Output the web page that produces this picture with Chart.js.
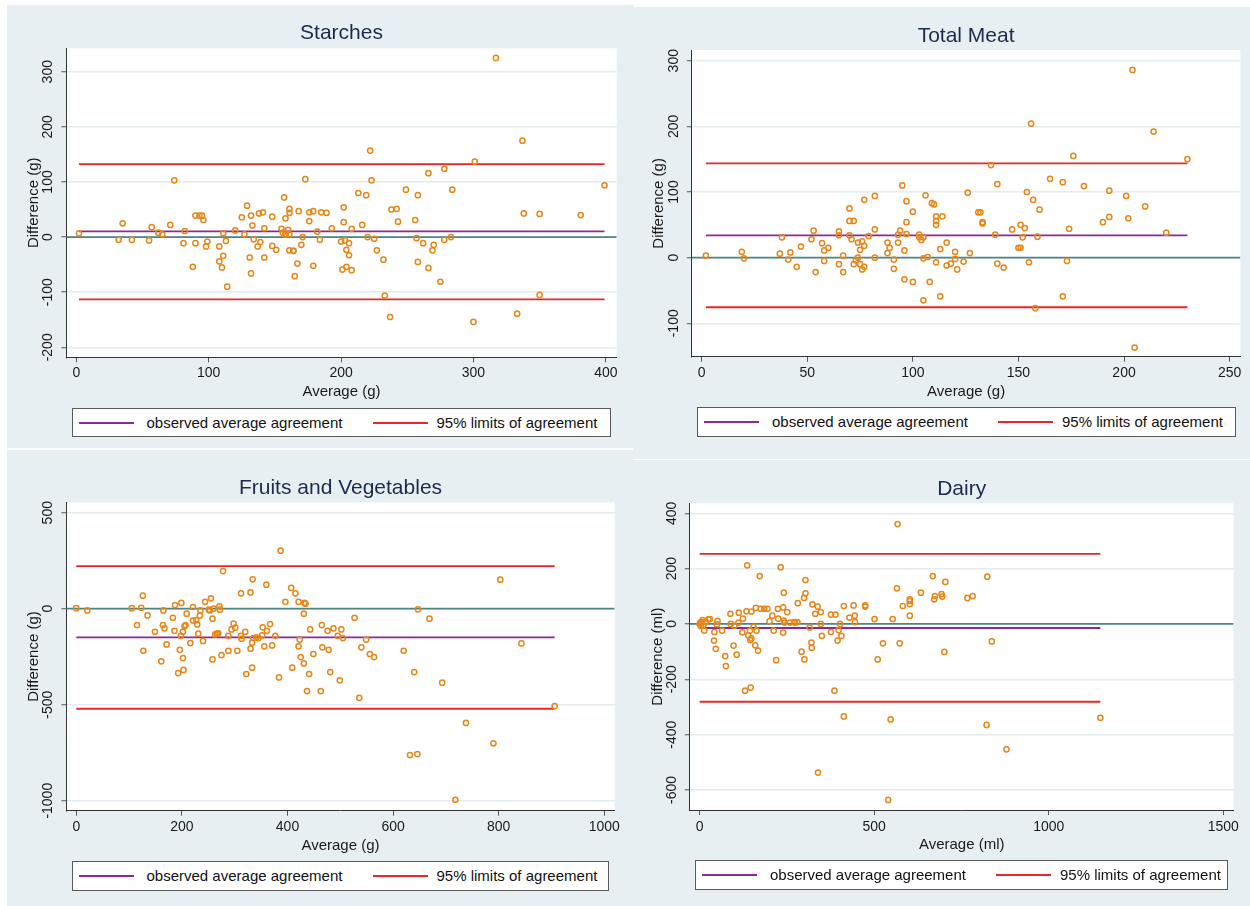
<!DOCTYPE html>
<html>
<head>
<meta charset="utf-8">
<script src="https://cdn.jsdelivr.net/npm/chart.js@4/dist/chart.umd.min.js"></script>
<style>
  html, body { margin: 0; padding: 0; background: #ffffff; }
  #page { position: relative; width: 1250px; height: 906px; overflow: hidden; background: #ffffff; }
  .panel { position: absolute; background: #e8eff2; }
  canvas { position: absolute; }
  .legend {
    position: absolute; box-sizing: border-box; background: #ffffff;
    border: 1.5px solid #5a5a5a; font-family: "Liberation Sans", Arial, Helvetica, sans-serif;
    font-size: 15px; color: #111;
  }
  .legend .ln { position: absolute; height: 2px; width: 55px; top: 50%; margin-top: -1px; }
  .legend .tx { position: absolute; top: 50%; transform: translateY(-52%); white-space: nowrap; }
</style>
</head>
<body>
<div id="page">
  <div class="panel" style="left:7px;top:5px;width:626px;height:443px"></div>
  <div class="panel" style="left:7px;top:450px;width:626px;height:456px"></div>
  <div class="panel" style="left:633px;top:7px;width:617px;height:452px"></div>
  <div class="panel" style="left:633px;top:460px;width:617px;height:446px"></div>
  <canvas id="starches" width="626" height="443" style="left:7px;top:5px"></canvas>
  <canvas id="meat" width="617" height="452" style="left:633px;top:7px"></canvas>
  <canvas id="fruits" width="626" height="456" style="left:7px;top:450px"></canvas>
  <canvas id="dairy" width="617" height="446" style="left:633px;top:460px"></canvas>
</div>
<script>
// Starches
const starchAvg = [2,32,35,42,55,57,62,65,71,74,81,82,88,90,90,93,95,96,98,99,
  108,108,110,111,111,113,114,120,125,127,129,131,132,132,133,134,137,138,139,141,
  142,142,148,148,151,155,156,157,158,158,158,160,161,161,161,161,164,164,165,167,
  168,170,171,173,176,176,179,179,182,184,185,189,193,200,201,202,202,203,204,204,
  206,206,208,208,213,216,219,220,222,223,225,227,232,233,237,238,242,243,249,256,
  257,258,258,262,266,266,269,270,275,278,278,283,284,300,301,317,333,337,338,350,
  350,381,399];
const starchDiff = [7,-5,25,-5,-6,18,8,5,22,103,-11,11,-54,39,-11,39,39,31,-17,-8,
  -17,-44,-55,-34,7,-7,-90,12,36,5,57,-37,-66,39,21,-4,-17,43,-9,45,
  -37,16,37,-16,-23,15,8,72,34,5,5,13,51,44,5,-24,-25,-25,-71,-48,
  47,-14,0,105,45,29,47,-52,10,-5,45,44,16,-8,-59,27,54,-6,-54,-23,
  -33,-11,-60,15,80,22,76,0,157,103,-3,-24,-41,-106,-145,50,51,28,86,31,
  -2,76,-45,-11,116,-56,-24,-14,-81,-5,124,0,86,-154,137,325,-139,175,43,42,
  -105,40,94];
const starchMean = 10.3;
const starchLimits = [-113.1, 132.4];
const starchXTicks = [0, 100, 200, 300, 400];
const starchYTicks = [-200, -100, 0, 100, 200, 300];

// Total Meat
const meatAvg = [2,19,20,37,38,41,42,45,47,52,53,54,57,58,58,60,65,65,65,67,
  67,70,70,70,71,72,72,73,74,74,75,75,76,76,77,77,77,79,82,82,
  82,88,88,89,91,91,93,93,94,95,96,96,97,97,97,100,100,103,103,104,
  105,105,105,106,107,108,109,110,111,111,111,111,113,113,114,116,116,118,120,120,
  121,124,126,127,131,132,133,133,137,139,140,140,143,147,151,150,151,152,153,154,
  155,156,157,158,159,160,165,171,171,173,174,176,181,190,193,193,201,202,204,205,
  210,214,220,230];
const meatDiff = [3,9,-1,6,31,-3,8,-14,17,28,41,-22,22,-5,11,15,40,34,-10,3,
  -22,75,56,34,28,-10,56,-4,23,0,-10,12,25,-18,18,-14,88,33,94,43,
  0,23,7,15,-3,-17,23,35,41,110,11,-33,86,54,36,-37,70,35,31,27,
  31,-1,-65,95,1,-37,83,81,50,63,56,-7,13,-59,63,23,-12,-9,9,-2,
  -18,-6,99,7,69,69,54,52,141,35,-9,112,-15,43,15,15,50,31,45,100,
  -7,204,88,-77,32,73,120,-59,115,-5,44,155,109,54,62,102,94,60,286,-137,
  78,192,38,150];
const meatMean = 34;
const meatLimits = [-75.6, 143.6];
const meatXTicks = [0, 50, 100, 150, 200, 250];
const meatYTicks = [-100, 0, 100, 200, 300];

// Fruits and Vegetables
const fruitAvg = [0,21,105,115,123,126,127,135,149,161,164,165,167,171,183,186,187,193,196,198,
  199,202,202,203,205,207,209,216,221,221,227,229,231,234,235,240,244,251,253,255,
  258,258,260,263,266,269,271,272,275,278,288,288,294,298,301,305,312,312,313,320,
  322,330,330,333,333,334,335,341,345,352,353,356,360,361,367,371,377,384,387,396,
  407,409,415,421,421,423,425,431,431,432,434,437,441,443,449,463,465,466,476,478,
  481,487,495,499,502,505,527,536,540,549,556,564,620,632,640,646,647,669,693,718,
  738,790,803,843,906];
const fruitDiff = [3,-9,3,-85,5,68,-219,-35,-120,-274,-85,-9,-102,-186,-47,-115,19,-335,-214,-141,
  30,-120,-257,-319,-90,-85,-26,-179,9,-62,-59,-82,-130,-36,-9,-168,36,-5,-9,54,
  -52,-264,0,-134,-130,-128,12,-5,-241,196,-141,-219,-108,-78,-99,-219,80,-141,-156,-120,
  -340,85,-208,-177,-307,153,-153,-149,-153,-139,-97,-196,125,-115,-80,-191,-141,-358,302,36,
  109,-307,80,36,-196,-161,-252,-26,-285,30,26,-429,-340,-108,-236,-429,-85,-201,-115,-214,
  -330,-102,-141,-373,-108,-153,-47,-464,-201,-161,-236,-252,-219,-762,-330,-757,-3,-52,-385,-995,
  -595,-701,151,-181,-507];
const fruitMean = -149;
const fruitLimits = [-521, 222];
const fruitXTicks = [0, 200, 400, 600, 800, 1000];
const fruitYTicks = [-1000, -500, 0, 500];

// Dairy
const dairyAvg = [0,2,6,8,10,13,3,17,25,29,41,42,46,49,51,64,73,75,88,89,
  97,99,106,111,112,122,124,130,134,136,139,144,145,146,148,148,154,159,161,163,
  167,172,175,185,194,200,208,212,219,224,225,232,239,239,241,241,243,251,259,271,
  273,280,281,292,299,300,303,303,315,320,321,323,331,338,339,347,347,350,376,376,
  386,389,395,398,402,406,413,413,429,441,444,445,474,474,501,510,525,540,547,553,
  565,567,573,582,602,602,602,602,634,668,672,674,693,695,701,704,767,782,822,824,
  837,879,1148];
const dairyDiff = [0,5,7,14,-4,-24,-7,7,17,18,-60,-29,-90,-1,11,-24,-116,-152,37,0,
  -78,-6,-111,5,41,-30,19,-241,46,212,-41,-24,-58,-230,-52,45,-10,-77,58,-24,
  -96,173,55,55,55,10,30,-24,-131,55,19,205,60,-31,113,12,5,43,5,7,
  5,7,75,-100,94,-128,159,111,-13,-67,-86,71,37,63,-537,0,43,-43,-29,34,
  -241,34,-60,-22,0,-43,65,-334,23,67,30,7,67,63,18,-128,-70,-636,-345,18,
  129,361,-70,65,30,89,72,83,113,173,89,101,108,99,-101,152,94,101,-365,171,
  -63,-453,-339];
const dairyMean = -14.5;
const dairyLimits = [-281, 253];
const dairyXTicks = [0, 500, 1000, 1500];
const dairyYTicks = [-600, -400, -200, 0, 200, 400];

const legendLabels = ['observed average agreement', '95% limits of agreement'];

const FONT = '"Liberation Sans", Arial, Helvetica, sans-serif';
const ORANGE = '#e6871a';
const PURPLE = '#8a2b92';
const RED = '#e8262b';
const TEAL = '#4b8686';
const GRID = '#e4ecf0';
const NAVY = '#1c2b4d';

Chart.defaults.font.family = FONT;

// white plot region, title, rotated y tick labels
const panelPlugin = {
    id: 'panel',
    beforeDraw(chart) {
        const a = chart.chartArea;
        const ctx = chart.ctx;
        ctx.save();
        ctx.fillStyle = '#ffffff';
        ctx.fillRect(a.left, a.top, a.right - a.left, a.bottom - a.top);
        ctx.restore();
    },
    afterDraw(chart, args, opts) {
        const ctx = chart.ctx;
        const a = chart.chartArea;
        ctx.save();
        ctx.fillStyle = NAVY;
        ctx.font = '21px ' + FONT;
        ctx.textAlign = 'center';
        ctx.textBaseline = 'middle';
        ctx.fillText(opts.title, (a.left + a.right) / 2, opts.titleY);

        const ys = chart.scales.y;
        ctx.fillStyle = '#1a1a1a';
        ctx.font = '14px ' + FONT;
        ys.ticks.forEach(t => {
            ctx.save();
            ctx.translate(opts.yLabelX, ys.getPixelForValue(t.value));
            ctx.rotate(-Math.PI / 2);
            ctx.fillText(String(t.value), 0, 0);
            ctx.restore();
        });
        ctx.restore();
    }
};

function hline(y, x0, x1, color) {
    return {
        type: 'line',
        data: [{ x: x0, y: y }, { x: x1, y: y }],
        borderColor: color,
        borderWidth: 1.8,
        pointRadius: 0,
        fill: false
    };
}

function makePanel(id, p) {
    const lo = Math.min(...p.avg);
    const hi = Math.max(...p.avg);
    const points = p.avg.map((a, i) => ({ x: a, y: p.diff[i] }));

    new Chart(document.getElementById(id), {
        type: 'scatter',
        data: {
            datasets: [
                {
                    data: points,
                    pointStyle: 'circle',
                    pointRadius: 2.6,
                    pointHoverRadius: 2.6,
                    borderWidth: 1.5,
                    borderColor: ORANGE,
                    backgroundColor: 'rgba(255,255,255,0)'
                },
                hline(p.mean, lo, hi, PURPLE),
                hline(p.limits[1], lo, hi, RED),
                hline(p.limits[0], lo, hi, RED),
                hline(0, p.xMin, p.xMax, TEAL)
            ]
        },
        options: {
            responsive: false,
            animation: false,
            events: [],
            layout: { padding: p.pad },
            plugins: {
                legend: { display: false },
                tooltip: { enabled: false },
                title: { display: false },
                panel: { title: p.title, titleY: p.titleY, yLabelX: p.yLabelX }
            },
            scales: {
                x: {
                    type: 'linear',
                    min: p.xMin,
                    max: p.xMax,
                    afterBuildTicks: s => { s.ticks = p.xTicks.map(v => ({ value: v })); },
                    afterFit: s => { s.height = p.xHeight; },
                    grid: { drawOnChartArea: false, drawTicks: true, tickLength: 5, tickColor: '#555', tickWidth: 1 },
                    border: { display: true, color: '#333', width: 1 },
                    ticks: { padding: p.xTickPad, color: '#1a1a1a', font: { size: 14 }, callback: v => String(v) },
                    title: { display: true, text: p.xTitle, color: '#1a1a1a', font: { size: 15 }, padding: 0 }
                },
                y: {
                    type: 'linear',
                    min: p.yMin,
                    max: p.yMax,
                    afterBuildTicks: s => { s.ticks = p.yTicks.map(v => ({ value: v })); },
                    afterFit: s => { s.width = p.yWidth; },
                    grid: { color: GRID, lineWidth: 1.5, drawTicks: true, tickLength: 5, tickColor: '#555', tickWidth: 1 },
                    border: { display: true, color: '#333', width: 1 },
                    ticks: { display: false },
                    title: { display: true, text: p.yTitle, color: '#1a1a1a', font: { size: 15 }, padding: 0 }
                }
            }
        },
        plugins: [panelPlugin]
    });
}

function addLegend(box) {
    const el = document.createElement('div');
    el.className = 'legend';
    el.style.left = box.left + 'px';
    el.style.top = box.top + 'px';
    el.style.width = box.width + 'px';
    el.style.height = box.height + 'px';
    el.innerHTML =
        '<span class="ln" style="left:6px;background:' + PURPLE + '"></span>' +
        '<span class="tx" style="left:74px">' + legendLabels[0] + '</span>' +
        '<span class="ln" style="left:300px;background:' + RED + '"></span>' +
        '<span class="tx" style="left:364px">' + legendLabels[1] + '</span>';
    document.getElementById('page').appendChild(el);
}

window.onload = () => {
    makePanel('starches', {
        title: 'Starches', xTitle: 'Average (g)', yTitle: 'Difference (g)',
        avg: starchAvg, diff: starchDiff, mean: starchMean, limits: starchLimits,
        xTicks: starchXTicks, yTicks: starchYTicks,
        xMin: -7.55, xMax: 408.2, yMin: -218.1, yMax: 342.5,
        pad: { top: 43.3, right: 16.3, left: 18, bottom: 47.3 },
        yWidth: 41.3, xHeight: 43.4, xTickPad: 2.6, titleY: 28, yLabelX: 41.2
    });
    makePanel('meat', {
        title: 'Total Meat', xTitle: 'Average (g)', yTitle: 'Difference (g)',
        avg: meatAvg, diff: meatDiff, mean: meatMean, limits: meatLimits,
        xTicks: meatXTicks, yTicks: meatYTicks,
        xMin: -4.67, xMax: 255.1, yMin: -150.9, yMax: 316.3,
        pad: { top: 43, right: 9.6, left: 16.7, bottom: 58.3 },
        yWidth: 42.1, xHeight: 44, xTickPad: 3.2, titleY: 29, yLabelX: 40.8
    });
    makePanel('fruits', {
        title: 'Fruits and Vegetables', xTitle: 'Average (g)', yTitle: 'Difference (g)',
        avg: fruitAvg, diff: fruitDiff, mean: fruitMean, limits: fruitLimits,
        xTicks: fruitXTicks, yTicks: fruitYTicks,
        xMin: -18.9, xMax: 1019.7, yMin: -1052, yMax: 554.2,
        pad: { top: 52.3, right: 18.3, left: 18, bottom: 51.3 },
        yWidth: 41.3, xHeight: 44, xTickPad: 2.9, titleY: 38.3, yLabelX: 41.2
    });
    makePanel('dairy', {
        title: 'Dairy', xTitle: 'Average (ml)', yTitle: 'Difference (ml)',
        avg: dairyAvg, diff: dairyDiff, mean: dairyMean, limits: dairyLimits,
        xTicks: dairyXTicks, yTicks: dairyYTicks,
        xMin: -28.4, xMax: 1529.8, yMin: -672.3, yMax: 436.1,
        pad: { top: 43.3, right: 16.4, left: 15.9, bottom: 52 },
        yWidth: 40.9, xHeight: 44, xTickPad: 3.3, titleY: 29.3, yLabelX: 38.8
    });

    addLegend({ left: 71.5, top: 408.3, width: 539.2, height: 29 });
    addLegend({ left: 697, top: 407.3, width: 539.4, height: 29.4 });
    addLegend({ left: 71.5, top: 860.7, width: 537.2, height: 30 });
    addLegend({ left: 695, top: 860, width: 532.6, height: 30 });
};
</script>
</body>
</html>
